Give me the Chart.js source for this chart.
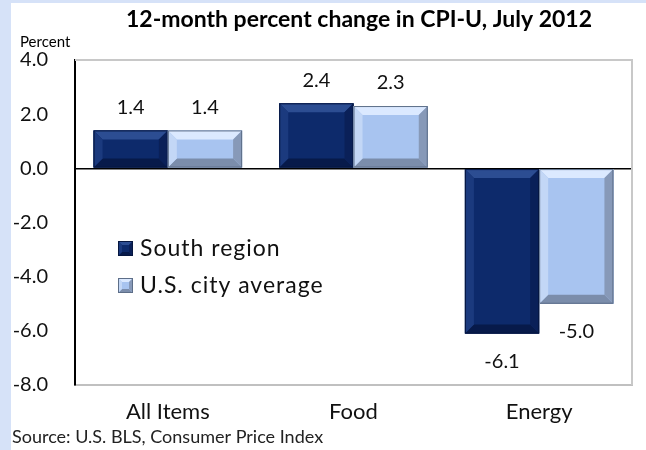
<!DOCTYPE html>
<html>
<head>
<meta charset="utf-8">
<script src="https://cdn.jsdelivr.net/npm/chart.js@4.4.0/dist/chart.umd.min.js"></script>
<style>
body { margin: 0; background: #d6e2f8; }
#marco { position: absolute; left: 11px; top: 3px; width: 635px; height: 447px; background: #fff; }
</style>
</head>
<body>
<div id="marco"><canvas id="grafico" width="635" height="447"></canvas></div>
<script>
const categorias = ['All Items', 'Food', 'Energy'];
const series = ['South region', 'U.S. city average'];
const valoresSur = [1.4, 2.4, -6.1];
const valoresPromedio = [1.4, 2.3, -5.0];
const ticksY = [-8, -6, -4, -2, 0, 2, 4];

const fuente = 'Lato, "Open Sans", sans-serif';

// colores del bisel: cara, arriba, abajo, izquierda, derecha, borde
const biselOscuro = { cara: '#0d2a6b', arriba: '#2c4d92', abajo: '#071a4a', izq: '#1b3a7e', der: '#0a2058', borde: '#06163f' };
const biselClaro = { cara: '#a8c4f0', arriba: '#dbe9ff', abajo: '#7b8dab', izq: '#c3d7f6', der: '#8799b8', borde: '#5d6e88' };

function dibujarBisel(ctx, l, t, r, b, c, ancho) {
  const h = b - t;
  const k = Math.min(ancho, h / 3, (r - l) / 3);
  ctx.save();
  ctx.fillStyle = c.cara;
  ctx.fillRect(l, t, r - l, h);
  const poli = (pts, color) => {
    ctx.beginPath();
    ctx.moveTo(pts[0][0], pts[0][1]);
    for (let i = 1; i < pts.length; i++) ctx.lineTo(pts[i][0], pts[i][1]);
    ctx.closePath();
    ctx.fillStyle = color;
    ctx.fill();
  };
  poli([[l, t], [r, t], [r - k, t + k], [l + k, t + k]], c.arriba);
  poli([[l, b], [r, b], [r - k, b - k], [l + k, b - k]], c.abajo);
  poli([[l, t], [l + k, t + k], [l + k, b - k], [l, b]], c.izq);
  poli([[r, t], [r - k, t + k], [r - k, b - k], [r, b]], c.der);
  ctx.strokeStyle = c.borde;
  ctx.lineWidth = 1;
  ctx.strokeRect(l + 0.5, t + 0.5, r - l - 1, h - 1);
  ctx.restore();
}

const estilos = [biselOscuro, biselClaro];

const pluginDecoracion = {
  id: 'decoracion',
  afterDatasetsDraw(chart) {
    const ctx = chart.ctx;
    chart.data.datasets.forEach((ds, i) => {
      chart.getDatasetMeta(i).data.forEach((bar, j) => {
        const l = bar.x - bar.width / 2;
        const r = bar.x + bar.width / 2;
        const t = Math.min(bar.y, bar.base);
        const b = Math.max(bar.y, bar.base);
        dibujarBisel(ctx, l, t, r, b, estilos[i], 9);
        // etiqueta del valor
        const v = ds.data[j];
        ctx.save();
        ctx.font = '20px ' + fuente;
        ctx.fillStyle = '#111';
        ctx.textAlign = 'center';
        ctx.textBaseline = 'middle';
        ctx.fillText(v.toFixed(1), bar.x, v >= 0 ? bar.y - 23 : bar.y + 28);
        ctx.restore();
      });
    });
  },
  afterDraw(chart) {
    const ctx = chart.ctx;
    const a = chart.chartArea;
    ctx.save();
    // marco gris arriba y a la derecha
    ctx.strokeStyle = '#c8c8c8';
    ctx.lineWidth = 2;
    ctx.beginPath();
    ctx.moveTo(a.left, a.top);
    ctx.lineTo(a.right, a.top);
    ctx.lineTo(a.right, a.bottom);
    ctx.stroke();

    ctx.fillStyle = '#000';
    ctx.textBaseline = 'middle';
    ctx.textAlign = 'center';
    ctx.font = 'bold 23px ' + fuente;
    ctx.fillText('12-month percent change in CPI-U, July 2012', 348, 17);

    ctx.textAlign = 'left';
    ctx.font = '15px ' + fuente;
    ctx.fillText('Percent', 9, 39);

    ctx.font = '18px ' + fuente;
    ctx.fillStyle = '#222';
    ctx.fillText('Source: U.S. BLS, Consumer Price Index', 1, 434);

    // leyenda dentro del area
    ctx.font = '23px ' + fuente;
    ctx.letterSpacing = '1px';
    ctx.fillStyle = '#111';
    chart.data.datasets.forEach((ds, i) => {
      const y = 245 + i * 37;
      dibujarBisel(ctx, 107, y - 7, 122, y + 8, estilos[i], 4);
      ctx.fillText(ds.label, 129, y + 1);
    });
    ctx.restore();
  }
};

new Chart(document.getElementById('grafico'), {
  type: 'bar',
  data: {
    labels: categorias,
    datasets: [
      { label: series[0], data: valoresSur, backgroundColor: biselOscuro.cara },
      { label: series[1], data: valoresPromedio, backgroundColor: biselClaro.cara }
    ]
  },
  options: {
    responsive: false,
    animation: false,
    datasets: { bar: { categoryPercentage: 0.8, barPercentage: 1.0 } },
    layout: { padding: { top: 57, right: 14, bottom: 0, left: 0 } },
    plugins: {
      legend: { display: false },
      title: { display: false },
      tooltip: { enabled: false }
    },
    scales: {
      x: {
        grid: { display: false, drawTicks: false },
        border: { color: '#c0c0c0', width: 2 },
        ticks: { color: '#111', font: { family: fuente, size: 22 }, padding: 14 },
        afterFit: function(s) { s.height = 65; }
      },
      y: {
        min: -8,
        max: 4,
        afterBuildTicks: function(s) { s.ticks = ticksY.map(v => ({ value: v })); },
        grid: {
          drawTicks: false,
          color: c => (c.tick && c.tick.value === 0) ? '#000' : 'rgba(0,0,0,0)',
          lineWidth: 1.5
        },
        border: { color: '#000', width: 2 },
        ticks: {
          color: '#111',
          font: { family: fuente, size: 20 },
          padding: 27,
          callback: v => Number(v).toFixed(1)
        },
        afterFit: function(s) { s.width = 64; }
      }
    }
  },
  plugins: [pluginDecoracion]
});
</script>
</body>
</html>
